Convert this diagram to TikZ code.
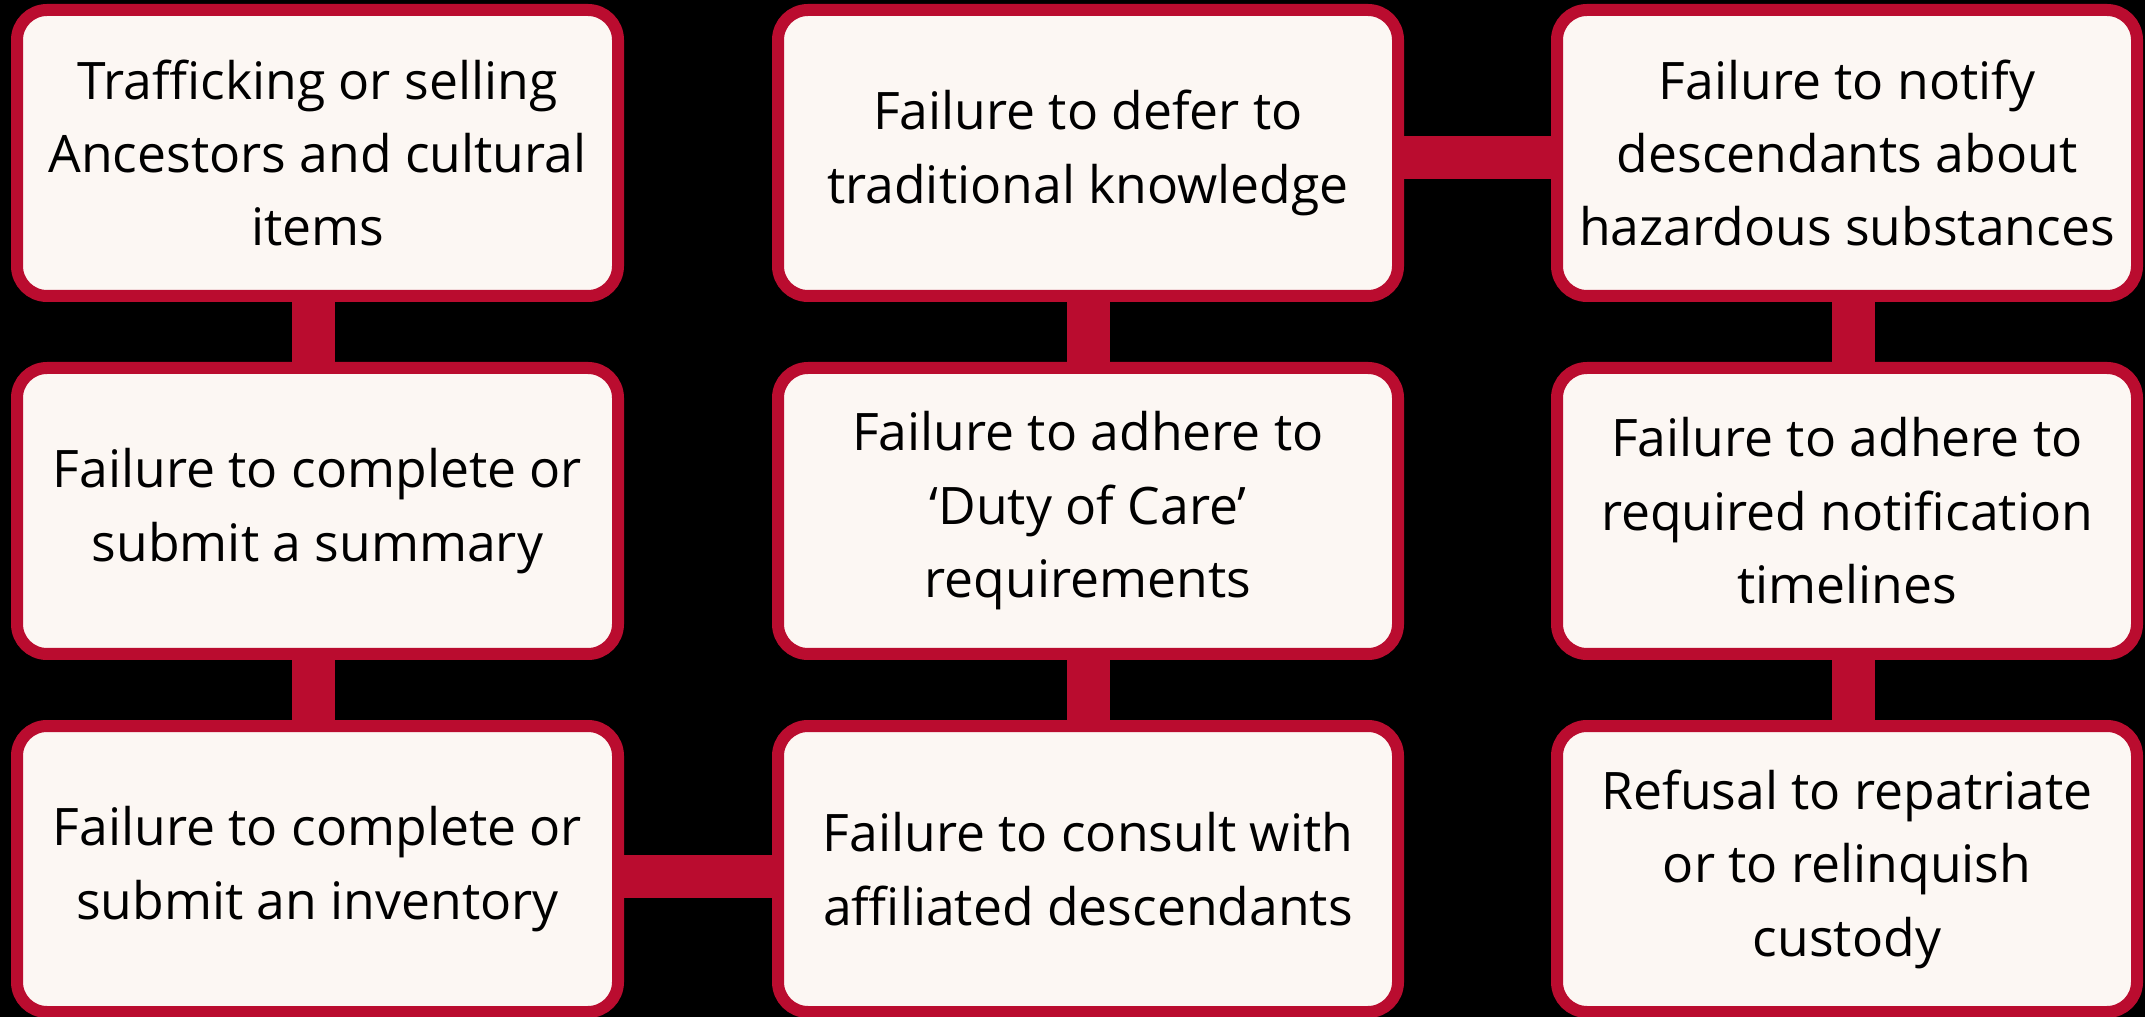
\documentclass[tikz,border=0pt]{standalone}
\usepackage{fontspec}
\setmainfont{Open Sans}
\usepackage{tikz}
\usetikzlibrary{backgrounds, positioning}
\usepackage{xcolor}
\definecolor{boxred}{RGB}{186,12,47}
\definecolor{boxfill}{RGB}{252,247,243}
\tikzset{failbox/.style={draw=boxred, fill=boxfill, line width=0.12cm, rounded corners=0.3cm, align=center, inner sep=0pt, minimum height=2.86cm, font=\fontsize{14.7}{20.9}\selectfont},
	link/.style={draw=boxred, line width=0.43cm}}

\begin{document}
\begin{tikzpicture}
			\useasboundingbox (0,0) rectangle (21.45,-10.17);
			\node[failbox, minimum width=6.01cm] (trafficking) at (3.175,-1.53) {Trafficking or selling\\Ancestors and cultural\\items};
			\node[failbox, minimum width=6.01cm] (summary) at (3.175,-5.11) {Failure to complete or\\submit a summary};
			\node[failbox, minimum width=6.01cm] (inventory) at (3.175,-8.69) {Failure to complete or\\submit an inventory};
			\node[failbox, minimum width=6.20cm] (defer) at (10.88,-1.53) {Failure to defer to\\traditional knowledge};
			\node[failbox, minimum width=6.20cm] (dutycare) at (10.88,-5.11) {Failure to adhere to\\‘Duty of Care’\\requirements};
			\node[failbox, minimum width=6.20cm] (consult) at (10.88,-8.69) {Failure to consult with\\affiliated descendants};
			\node[failbox, minimum width=5.80cm] (notify) at (18.47,-1.53) {Failure to notify\\descendants about\\hazardous substances};
			\node[failbox, minimum width=5.80cm] (timelines) at (18.47,-5.11) {Failure to adhere to\\required notification\\timelines};
			\node[failbox, minimum width=5.80cm] (refusal) at (18.47,-8.69) {Refusal to repatriate\\or to relinquish\\custody};
			\begin{scope}[on background layer]
				\fill[black] (0,0) rectangle (21.45,-10.17);
				\draw[link] ([xshift=-0.04cm]trafficking.south) -- ([xshift=-0.04cm]summary.north);
				\draw[link] ([xshift=-0.04cm]summary.south) -- ([xshift=-0.04cm]inventory.north);
				\draw[link] ([yshift=-0.07cm]inventory.east) -- ([yshift=-0.07cm]consult.west);
				\draw[link] (consult) -- (dutycare);
				\draw[link] (dutycare) -- (defer);
				\draw[link] ([yshift=-0.05cm]defer.east) -- ([yshift=-0.05cm]notify.west);
				\draw[link] ([xshift=0.06cm]notify.south) -- ([xshift=0.06cm]timelines.north);
				\draw[link] ([xshift=0.06cm]timelines.south) -- ([xshift=0.06cm]refusal.north);
			\end{scope}
		\end{tikzpicture}
\end{document}
